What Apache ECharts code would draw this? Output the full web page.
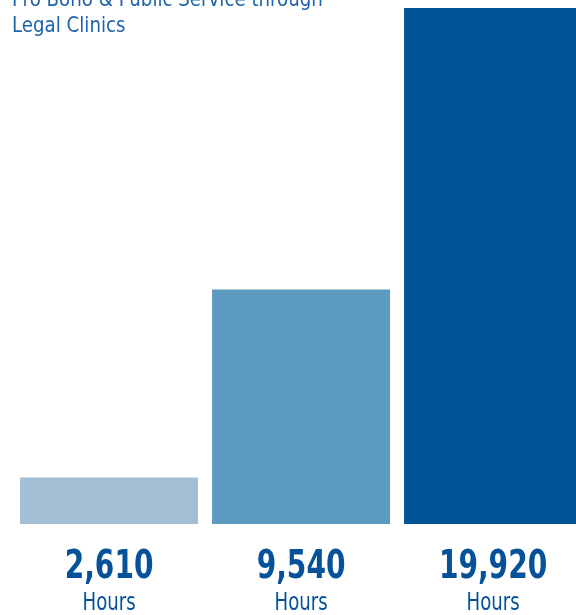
<!DOCTYPE html>
<html>
<head>
<meta charset="utf-8">
<script src="https://cdn.jsdelivr.net/npm/echarts@6/dist/echarts.min.js"></script>
<style>html,body{margin:0;padding:0;background:#fff;}#c{width:576px;height:615px;}</style>
</head>
<body>
<div id="c"></div>
<script>
const titleLines = ['Pro Bono & Public Service through', 'Legal Clinics'];
const categories = ['A', 'B', 'C'];
const hours = [2610, 9540, 19920];
const unitLabel = 'Hours';
const barColors = ['#a3bfd6', '#5a9bbf', '#015496'];

const FONT = '"Liberation Sans Narrow","DejaVu Sans Condensed","Roboto",sans-serif';
const Y_MIN = 900;
const chart = echarts.init(document.getElementById('c'));
chart.setOption({
  animation: false,
  graphic: [{
    type: 'text',
    left: 12,
    top: -13,
    scaleX: 0.92,
    style: {
      text: titleLines.join('\n'),
      fill: '#1f64aa',
      font: 'normal 22px ' + FONT,
      lineHeight: 26
    }
  }],
  grid: { left: 0, right: 0, top: 8, bottom: 91, containLabel: false },
  xAxis: {
    type: 'value',
    min: -0.568,
    max: 2.432,
    show: false,
    splitLine: { show: false }
  },
  yAxis: {
    type: 'value',
    min: Y_MIN,
    max: 19920,
    show: false,
    splitLine: { show: false }
  },
  series: [{
    type: 'bar',
    barWidth: 178,
    clip: true,
    data: hours.map((v, i) => ({ value: [i, v], name: categories[i], itemStyle: { color: barColors[i] } }))
  }, {
    type: 'custom',
    clip: false,
    silent: true,
    data: hours.map((v, i) => [i, v]),
    renderItem: function (params, api) {
      const p = api.coord([api.value(0), Y_MIN]);
      const val = api.value(1);
      return {
        type: 'group',
        children: [{
          type: 'text',
          x: p[0], y: p[1] + 44, scaleX: 0.8,
          style: {
            text: val.toLocaleString('en-US'),
            fill: '#06529a',
            font: 'bold 39px ' + FONT,
            align: 'center', verticalAlign: 'middle'
          }
        }, {
          type: 'text',
          x: p[0], y: p[1] + 80, scaleX: 0.84,
          style: {
            text: unitLabel,
            fill: '#06529a',
            font: 'normal 24px ' + FONT,
            align: 'center', verticalAlign: 'middle'
          }
        }]
      };
    }
  }]
});
</script>
</body>
</html>
